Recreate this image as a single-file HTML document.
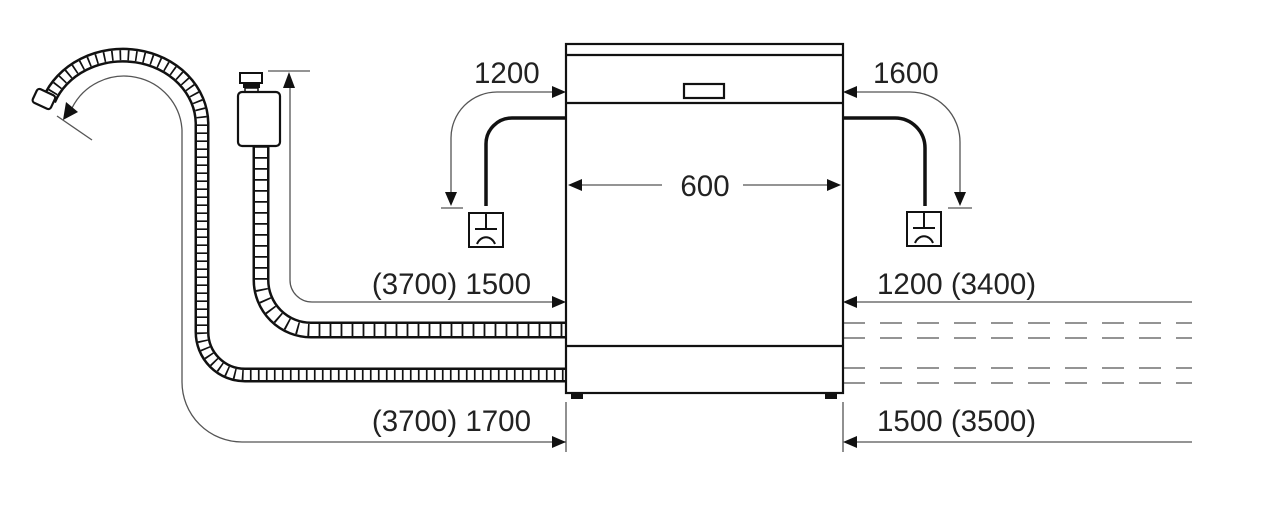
<!DOCTYPE html>
<html><head><meta charset="utf-8"><style>
html,body{margin:0;padding:0;background:#fff;}
svg{display:block;}
text{font-family:"Liberation Sans",Arial,sans-serif;font-size:29.5px;fill:#222;}
</style></head><body>
<svg width="1280" height="509" viewBox="0 0 1280 509" xmlns="http://www.w3.org/2000/svg">
<rect width="1280" height="509" fill="#fff"/>
<g fill="none" stroke="#555" stroke-width="1.3">
  <path d="M566,442 L242,442 A60,60 0 0 1 182,382 L182,130 A58,57 0 0 0 72,108"/>
  <line x1="57" y1="116" x2="92" y2="140"/>
  <path d="M556,302 L312,302 A22,22 0 0 1 290,280 L290,84"/>
  <line x1="268" y1="71" x2="310" y2="71"/>
  <path d="M554,92 L497,92 A46,46 0 0 0 451,138 L451,194"/>
  <line x1="441" y1="208" x2="463" y2="208"/>
  <path d="M855,92 L910,92 A50,50 0 0 1 960,142 L960,194"/>
  <line x1="948" y1="208" x2="972" y2="208"/>
  <line x1="580" y1="185" x2="662" y2="185"/>
  <line x1="743" y1="185" x2="828" y2="185"/>
  <line x1="856" y1="302" x2="1192" y2="302"/>
  <line x1="856" y1="442" x2="1192" y2="442"/>
  <line x1="566" y1="402" x2="566" y2="452"/>
  <line x1="843" y1="402" x2="843" y2="452"/>
  <g stroke-dasharray="22 15">
    <line x1="843" y1="323" x2="1192" y2="323"/>
    <line x1="843" y1="338" x2="1192" y2="338"/>
    <line x1="843" y1="368" x2="1192" y2="368"/>
    <line x1="843" y1="383" x2="1192" y2="383"/>
  </g>
</g>
<g fill="#111">
  <polygon points="63,120 66,102 78,112"/>
  <polygon points="289,72 283,88 295,88"/>
  <polygon points="566,302 552,296 552,308"/>
  <polygon points="566,442 552,436 552,448"/>
  <polygon points="566,92 552,86 552,98"/>
  <polygon points="451,206 445,192 457,192"/>
  <polygon points="843,92 857,86 857,98"/>
  <polygon points="960,206 954,192 966,192"/>
  <polygon points="568,185 582,179 582,191"/>
  <polygon points="841,185 827,179 827,191"/>
  <polygon points="843,302 857,296 857,308"/>
  <polygon points="843,442 857,436 857,448"/>
</g>
<g fill="none">
  <path d="M49,100 A79,69 0 0 1 202,123 L202,332 A43,43 0 0 0 245,375 L566,375" stroke="#111" stroke-width="15"/>
  <path d="M49,100 A79,69 0 0 1 202,123 L202,332 A43,43 0 0 0 245,375 L566,375" stroke="#fff" stroke-width="10"/>
  <path d="M49,100 A79,69 0 0 1 202,123 L202,332 A43,43 0 0 0 245,375 L566,375" stroke="#111" stroke-width="10" stroke-dasharray="1.7 6.3"/>
  <path d="M261,146 L261,280 A50,50 0 0 0 311,330 L566,330" stroke="#111" stroke-width="17"/>
  <path d="M261,146 L261,280 A50,50 0 0 0 311,330 L566,330" stroke="#fff" stroke-width="12"/>
  <path d="M261,146 L261,280 A50,50 0 0 0 311,330 L566,330" stroke="#111" stroke-width="12" stroke-dasharray="1.8 9.2"/>
</g>
<rect x="-11" y="-7" width="20" height="15" rx="3" fill="#fff" stroke="#111" stroke-width="2.2" transform="translate(45,99) rotate(25)"/>
<rect x="240" y="73" width="22" height="10" fill="#fff" stroke="#111" stroke-width="2"/>
<rect x="243" y="84" width="17" height="4" fill="#111"/>
<rect x="245" y="88" width="13" height="5" fill="#fff" stroke="#111" stroke-width="1.5"/>
<rect x="238" y="92" width="42" height="54" rx="4" fill="#fff" stroke="#111" stroke-width="2.2"/>
<g fill="none" stroke="#111" stroke-width="3.5">
  <path d="M566,118 L512,118 A26,26 0 0 0 486,144 L486,206"/>
  <path d="M843,118 L895,118 A30,30 0 0 1 925,148 L925,206"/>
</g>
<g fill="none" stroke="#111" stroke-width="2">
  <rect x="469" y="213" width="34" height="34"/>
  <line x1="486" y1="213" x2="486" y2="229"/>
  <line x1="475" y1="229" x2="497" y2="229"/>
  <path d="M477,244 A10,12 0 0 1 495,244"/>
  <rect x="907" y="212" width="34" height="34"/>
  <line x1="924" y1="212" x2="924" y2="228"/>
  <line x1="913" y1="228" x2="935" y2="228"/>
  <path d="M915,243 A10,12 0 0 1 933,243"/>
</g>
<g fill="none" stroke="#111" stroke-width="2.2">
  <rect x="566" y="44" width="277" height="349"/>
  <line x1="566" y1="55" x2="843" y2="55"/>
  <line x1="566" y1="103" x2="843" y2="103"/>
  <line x1="566" y1="346" x2="843" y2="346"/>
  <rect x="684" y="84" width="40" height="14"/>
</g>
<rect x="571" y="393" width="12" height="6" fill="#111"/>
<rect x="825" y="393" width="12" height="6" fill="#111"/>
<text x="474" y="83">1200</text>
<text x="873" y="83">1600</text>
<text x="705" y="196" text-anchor="middle">600</text>
<text x="531" y="294" text-anchor="end">(3700) 1500</text>
<text x="877" y="294">1200 (3400)</text>
<text x="531" y="431" text-anchor="end">(3700) 1700</text>
<text x="877" y="431">1500 (3500)</text>
</svg>
</body></html>
